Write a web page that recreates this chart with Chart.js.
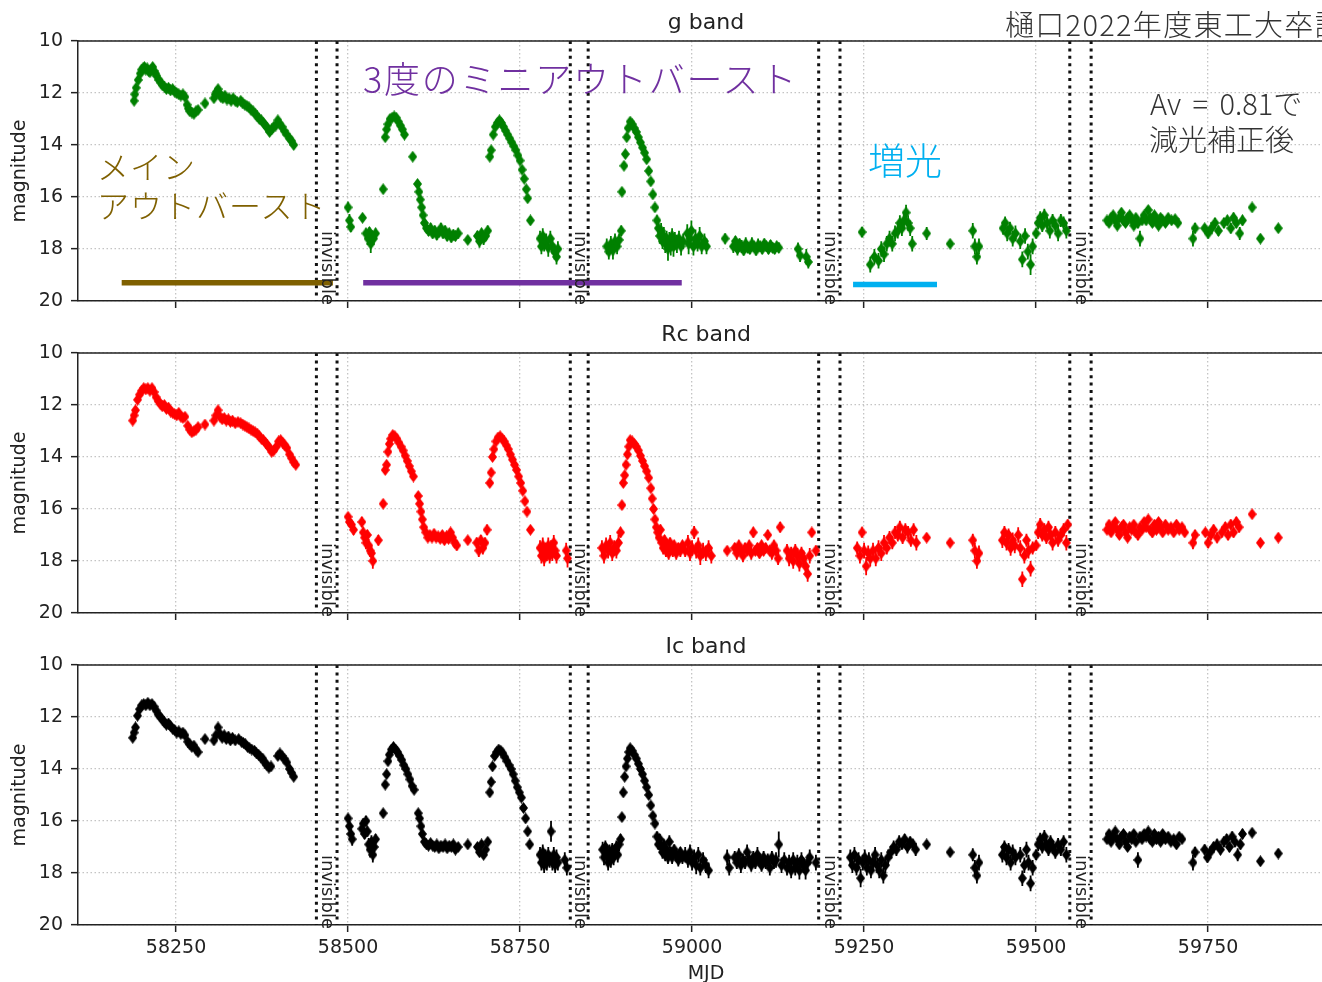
<!DOCTYPE html>
<html><head><meta charset="utf-8">
<script src="https://cdn.jsdelivr.net/npm/chart.js@4.4.0/dist/chart.umd.min.js"></script>
<style>
html,body{margin:0;padding:0;width:1322px;height:982px;overflow:hidden;background:#fff}
.panel{position:absolute;left:0}
.note{position:absolute;white-space:nowrap;font-family:"Noto Sans CJK JP";font-weight:300;line-height:1}
</style></head><body>
<div class="panel" style="top:0"><canvas id="c0" width="1340" height="330" style="width:1340px;height:330px"></canvas></div>
<div class="panel" style="top:312px"><canvas id="c1" width="1340" height="330" style="width:1340px;height:330px"></canvas></div>
<div class="panel" style="top:624px"><canvas id="c2" width="1340" height="358" style="width:1340px;height:358px"></canvas></div>

<div class="note" style="left:363px;top:59px;font-size:36px;letter-spacing:1.8px;color:#7030a0">3度のミニアウトバースト</div>
<div class="note" style="left:97px;top:149px;font-size:32px;letter-spacing:1px;color:#7f6000">メイン</div>
<div class="note" style="left:97px;top:188px;font-size:32px;letter-spacing:1px;color:#7f6000">アウトバースト</div>
<div class="note" style="left:868px;top:141px;font-size:37px;color:#00b0f0">増光</div>
<div class="note" style="left:1150px;top:88px;font-size:29px;word-spacing:5px;color:#333">Av = 0.81で</div>
<div class="note" style="left:1149px;top:124px;font-size:29px;color:#333">減光補正後</div>
<div class="note" style="left:1005px;top:9px;font-size:29px;letter-spacing:1.3px;color:#333">樋口2022年度東工大卒論</div>

<script>
// ---- data: [MJD, magnitude, error] ----
const gBand = [
[58189,12.3,.12],[58190,12.05,.1],[58192,11.8,.1],[58195,11.5,.1],[58198,11.25,.1],[58200,11.1,.1],[58202,11.05,.1],[58204,11.0,.1],[58206,11.1,.1],[58208,11.05,.1],[58210,11.15,.1],[58212,11.2,.1],[58214,11.1,.1],[58216,11.0,.1],[58218,11.15,.1],[58220,11.25,.1],[58222,11.35,.1],[58225,11.5,.1],[58228,11.6,.1],[58230,11.7,.1],[58233,11.75,.1],[58236,11.85,.1],[58239,11.8,.1],[58242,11.9,.1],[58245,11.85,.1],[58248,11.95,.1],[58251,12.0,.1],[58254,12.05,.1],[58257,12.1,.1],[58260,12.05,.1],[58263,12.15,.1],[58266,12.45,.1],[58268,12.6,.1],[58270,12.7,.1],[58273,12.75,.1],[58276,12.8,.1],[58279,12.7,.1],[58282,12.65,.1],[58292,12.4,.1],[58305,12.2,.1],[58307,12.05,.1],[58309,11.95,.1],[58311,11.85,.1],[58313,12.0,.1],[58315,12.15,.1],[58318,12.2,.1],[58321,12.1,.1],[58324,12.25,.1],[58327,12.2,.1],[58330,12.3,.1],[58333,12.2,.1],[58336,12.3,.1],[58339,12.35,.1],[58344,12.3,.1],[58347,12.4,.1],[58350,12.45,.1],[58353,12.5,.1],[58356,12.55,.1],[58359,12.65,.1],[58362,12.7,.1],[58365,12.8,.1],[58368,12.9,.1],[58371,13.0,.1],[58374,13.05,.1],[58377,13.15,.1],[58380,13.25,.1],[58383,13.35,.1],[58386,13.5,.1],[58389,13.4,.1],[58392,13.3,.1],[58395,13.25,.1],[58398,13.05,.1],[58401,13.2,.1],[58404,13.3,.1],[58407,13.45,.1],[58411,13.6,.1],[58415,13.75,.1],[58418,13.85,.1],[58421,14.0,.1],
[58500,16.4,.2],[58502,16.9,.25],[58504,17.15,.2],[58521,16.8,.15],[58526,17.4,.2],[58529,17.6,.25],[58531,17.35,.2],[58533,17.8,.35],[58535,17.5,.2],[58537,17.6,.25],[58540,17.4,.2],[58551,15.7,.15],[58554,13.7,.1],[58556,13.4,.1],[58558,13.2,.1],[58561,13.0,.1],[58564,12.95,.1],[58567,12.9,.1],[58570,12.95,.1],[58573,13.1,.1],[58576,13.25,.1],[58579,13.4,.1],[58582,13.6,.1],[58594,14.45,.1],[58601,15.5,.1],[58603,15.8,.1],[58605,16.1,.1],[58607,16.4,.1],[58609,16.7,.15],[58611,17.0,.15],[58614,17.2,.15],[58617,17.3,.2],[58620,17.2,.2],[58623,17.4,.2],[58626,17.3,.2],[58629,17.45,.2],[58632,17.35,.2],[58635,17.2,.2],[58638,17.4,.2],[58641,17.3,.2],[58644,17.5,.2],[58647,17.4,.2],[58650,17.55,.2],[58653,17.45,.2],[58656,17.5,.2],[58660,17.4,.2],[58674,17.65,.15],[58688,17.5,.2],[58691,17.7,.25],[58694,17.4,.2],[58697,17.6,.25],[58700,17.5,.2],[58703,17.3,.2],
[58706,14.45,.1],[58708,14.2,.1],[58711,13.6,.1],[58714,13.3,.1],[58717,13.15,.1],[58720,13.05,.1],[58723,13.15,.1],[58726,13.3,.1],[58729,13.45,.1],[58732,13.6,.1],[58735,13.75,.1],[58738,13.9,.1],[58741,14.05,.1],[58744,14.2,.1],[58747,14.4,.1],[58750,14.6,.1],[58753,14.95,.1],[58756,15.3,.1],[58759,15.7,.1],[58761,16.05,.1],[58765,16.9,.15],[58779,17.6,.3],[58781,17.9,.3],[58783,17.5,.3],[58785,17.8,.3],[58788,17.7,.3],[58791,17.95,.35],[58794,17.6,.3],[58797,17.9,.3],[58800,18.1,.3],[58803,18.3,.3],[58805,18.0,.3],
[58876,17.9,.3],[58879,18.1,.3],[58882,17.8,.3],[58885,18.05,.35],[58888,17.7,.3],[58891,17.9,.3],[58894,17.65,.25],[58897,17.3,.2],[58898,15.8,.1],[58901,14.8,.1],[58903,14.35,.1],[58905,13.7,.1],[58907,13.35,.1],[58910,13.1,.1],[58913,13.2,.1],[58916,13.35,.1],[58919,13.5,.1],[58922,13.7,.1],[58925,13.9,.1],[58928,14.1,.1],[58931,14.3,.1],[58934,14.55,.1],[58937,15.0,.1],[58940,15.4,.1],[58943,15.9,.1],[58946,16.4,.15],[58949,16.9,.2],[58951,17.2,.25],[58953,17.5,.3],[58955,17.3,.3],[58957,17.7,.3],[58959,17.5,.35],[58961,17.8,.35],[58963,17.6,.3],[58965,18.0,.45],[58967,17.7,.35],[58969,17.9,.35],[58971,17.5,.3],[58973,17.9,.4],[58975,17.7,.35],[58978,17.8,.35],[58981,17.6,.3],[58984,17.9,.35],[58987,17.7,.3],[58993,17.4,.35],[58995,17.8,.4],[58997,17.6,.35],[58999,17.3,.4],[59002,17.9,.35],[59005,17.6,.35],[59008,17.8,.3],[59011,17.5,.35],[59014,17.9,.3],[59018,17.7,.3],[59021,17.9,.3],
[59048,17.6,.2],[59060,17.9,.25],[59063,17.7,.2],[59066,18.0,.25],[59069,17.8,.2],[59072,17.9,.25],[59075,18.05,.2],[59078,17.8,.25],[59081,17.95,.2],[59084,18.0,.2],[59087,17.8,.25],[59090,17.9,.2],[59093,18.05,.2],[59096,17.85,.25],[59099,17.9,.2],[59102,18.0,.2],[59105,17.8,.2],[59108,17.9,.2],[59111,18.0,.2],[59114,17.85,.2],[59117,17.95,.2],[59120,18.0,.2],[59123,17.9,.2],[59126,17.95,.2],[59154,18.0,.25],[59157,18.25,.25],[59166,18.3,.3],[59169,18.5,.25],
[59247,17.35,.2],[59259,18.6,.3],[59265,18.3,.3],[59271,18.45,.3],[59275,18.0,.3],[59279,18.2,.3],[59283,17.8,.3],[59287,17.6,.3],[59291,17.8,.3],[59295,17.4,.3],[59299,17.3,.3],[59302,17.0,.3],[59305,17.2,.3],[59308,16.9,.3],[59311,16.6,.3],[59314,17.0,.3],[59317,17.2,.3],[59320,17.8,.3],[59341,17.4,.25],[59375,17.8,.1],[59408,17.3,.3],[59411,17.9,.3],[59414,18.3,.3],[59417,17.9,.3],[59452,17.2,.25],[59455,17.0,.25],[59458,17.4,.3],[59462,17.2,.25],[59466,17.6,.3],[59470,17.4,.3],[59477,17.7,.3],[59480,18.4,.3],[59484,17.5,.3],[59488,18.1,.3],[59492,18.6,.4],[59495,17.9,.3],[59500,17.4,.2],[59503,17.0,.25],[59506,16.8,.25],[59509,17.1,.25],[59512,16.7,.25],[59516,17.0,.25],[59520,17.3,.3],[59524,16.9,.25],[59528,17.1,.25],[59532,17.4,.3],[59536,16.9,.25],[59540,17.0,.25],[59544,17.3,.3],
[59603,16.9,.15],[59606,17.0,.15],[59609,16.8,.15],[59612,16.7,.15],[59615,16.9,.15],[59618,17.1,.15],[59621,16.8,.15],[59624,16.6,.15],[59627,16.9,.15],[59630,17.0,.15],[59633,16.8,.15],[59636,16.7,.15],[59639,16.9,.15],[59642,17.1,.15],[59645,16.8,.15],[59648,17.0,.2],[59651,17.6,.3],[59654,16.9,.15],[59657,16.7,.15],[59660,16.9,.15],[59663,16.5,.15],[59666,16.8,.15],[59669,17.0,.15],[59672,16.7,.15],[59675,16.9,.15],[59678,17.1,.15],[59681,16.8,.15],[59684,16.9,.15],[59688,17.0,.15],[59692,16.8,.15],[59697,16.9,.15],[59702,16.85,.15],[59706,17.0,.15],[59728,17.6,.3],[59731,17.2,.2],[59745,17.2,.15],[59750,17.4,.2],[59755,17.2,.2],[59760,17.0,.2],[59765,17.3,.2],[59773,17.0,.2],[59778,16.9,.2],[59783,17.2,.2],[59787,16.8,.2],[59791,17.0,.2],[59796,17.4,.25],[59800,16.9,.2],[59814,16.4,.1],[59826,17.6,.15],[59852,17.2,.15]
];
const rcBand = [
[58187,12.6,.1],[58189,12.4,.1],[58191,12.2,.1],[58194,11.8,.1],[58197,11.6,.1],[58200,11.45,.1],[58203,11.35,.1],[58206,11.4,.1],[58209,11.35,.1],[58212,11.45,.1],[58215,11.35,.1],[58218,11.5,.1],[58221,11.7,.1],[58224,11.85,.1],[58227,11.95,.1],[58230,12.05,.1],[58233,12.0,.1],[58236,12.15,.1],[58239,12.1,.1],[58242,12.25,.1],[58245,12.3,.1],[58248,12.35,.1],[58251,12.4,.1],[58254,12.3,.1],[58257,12.45,.1],[58260,12.5,.1],[58263,12.45,.1],[58267,12.8,.1],[58270,12.95,.1],[58273,13.05,.1],[58276,13.0,.1],[58279,12.95,.1],[58282,12.85,.1],[58292,12.75,.1],[58305,12.6,.1],[58308,12.4,.1],[58311,12.2,.1],[58314,12.45,.1],[58317,12.55,.1],[58320,12.5,.1],[58323,12.6,.1],[58326,12.55,.1],[58329,12.65,.1],[58332,12.6,.1],[58336,12.7,.1],[58340,12.65,.1],[58344,12.7,.1],[58347,12.75,.1],[58350,12.8,.1],[58353,12.85,.1],[58356,12.9,.1],[58359,12.95,.1],[58362,13.0,.1],[58365,13.05,.1],[58368,13.1,.1],[58371,13.2,.1],[58374,13.3,.1],[58377,13.35,.1],[58380,13.45,.1],[58383,13.55,.1],[58386,13.65,.1],[58389,13.8,.1],[58392,13.75,.1],[58396,13.6,.1],[58399,13.4,.1],[58402,13.35,.1],[58405,13.45,.1],[58408,13.55,.1],[58411,13.65,.1],[58415,13.9,.1],[58418,14.05,.1],[58421,14.2,.1],[58424,14.3,.1],
[58500,16.3,.15],[58502,16.5,.2],[58505,16.6,.2],[58508,16.8,.2],[58520,16.5,.2],[58522,16.9,.2],[58524,17.1,.25],[58526,17.3,.25],[58528,17.0,.2],[58530,17.4,.25],[58532,17.6,.25],[58534,17.7,.3],[58536,18.0,.3],[58544,17.2,.2],[58551,15.8,.1],[58554,14.5,.1],[58556,14.3,.1],[58558,13.8,.1],[58560,13.5,.1],[58562,13.3,.1],[58565,13.15,.1],[58568,13.2,.1],[58571,13.3,.1],[58574,13.45,.1],[58577,13.6,.1],[58580,13.75,.1],[58583,13.95,.1],[58586,14.15,.1],[58589,14.35,.1],[58592,14.55,.1],[58595,14.75,.1],[58602,15.5,.1],[58604,15.8,.1],[58606,16.1,.1],[58608,16.4,.1],[58610,16.7,.1],[58613,16.9,.15],[58616,17.1,.15],[58619,17.0,.15],[58622,17.1,.15],[58625,16.95,.15],[58628,17.1,.15],[58631,17.05,.15],[58634,17.15,.15],[58637,17.0,.15],[58640,17.2,.15],[58643,17.05,.15],[58646,17.15,.15],[58649,16.9,.15],[58652,17.1,.15],[58655,17.3,.2],[58658,17.4,.2],[58674,17.2,.15],[58687,17.3,.2],[58690,17.6,.25],[58693,17.2,.2],[58696,17.5,.25],[58699,17.3,.2],[58702,16.8,.2],
[58706,15.0,.1],[58708,14.6,.1],[58710,14.0,.1],[58712,13.7,.1],[58715,13.4,.1],[58718,13.25,.1],[58721,13.2,.1],[58724,13.3,.1],[58727,13.4,.1],[58730,13.55,.1],[58733,13.7,.1],[58736,13.9,.1],[58739,14.1,.1],[58742,14.3,.1],[58745,14.5,.1],[58748,14.75,.1],[58751,15.0,.1],[58754,15.3,.1],[58757,15.7,.1],[58760,16.1,.1],[58765,16.8,.15],[58779,17.5,.3],[58781,17.8,.3],[58783,17.4,.3],[58785,17.9,.3],[58787,17.6,.3],[58789,17.7,.3],[58791,17.4,.3],[58793,17.8,.3],[58795,17.5,.3],[58797,17.7,.3],[58799,17.3,.3],[58801,17.6,.3],[58803,17.8,.3],[58817,17.6,.3],[58819,17.9,.35],
[58869,17.5,.3],[58872,17.8,.3],[58875,17.4,.3],[58878,17.6,.3],[58881,17.3,.3],[58884,17.7,.3],[58887,17.5,.3],[58890,17.6,.3],[58893,17.3,.3],[58896,16.9,.2],[58898,15.85,.1],[58900,15.0,.1],[58902,14.7,.1],[58904,14.3,.1],[58906,13.9,.1],[58908,13.6,.1],[58910,13.35,.1],[58913,13.4,.1],[58916,13.5,.1],[58919,13.6,.1],[58922,13.75,.1],[58925,13.95,.1],[58928,14.15,.1],[58931,14.35,.1],[58934,14.55,.1],[58937,14.8,.1],[58940,15.2,.1],[58942,15.6,.1],[58944,16.0,.1],[58946,16.4,.15],[58948,16.7,.15],[58950,16.9,.2],[58952,17.1,.2],[58954,16.8,.2],[58956,17.3,.2],[58958,17.5,.25],[58960,17.2,.2],[58962,17.6,.25],[58964,17.4,.2],[58966,17.7,.25],[58968,17.3,.2],[58970,17.5,.25],[58972,17.6,.25],[58974,17.4,.2],[58977,17.7,.25],[58980,17.5,.2],[58983,17.6,.25],[58986,17.4,.2],[58990,17.6,.25],[58994,17.3,.3],[58997,17.7,.3],[59000,17.5,.3],[59003,16.9,.25],[59006,17.6,.3],[59009,17.4,.3],[59012,17.8,.35],[59016,17.6,.3],[59020,17.7,.3],[59024,17.5,.3],[59028,17.8,.3],
[59051,17.6,.15],[59062,17.5,.2],[59065,17.7,.25],[59068,17.4,.2],[59071,17.6,.2],[59074,17.8,.25],[59077,17.5,.2],[59080,17.6,.2],[59083,17.4,.2],[59086,17.7,.25],[59089,16.9,.2],[59092,17.6,.2],[59095,17.5,.2],[59098,17.7,.2],[59101,17.4,.2],[59104,17.6,.2],[59107,17.5,.2],[59110,17.0,.2],[59113,17.6,.2],[59116,17.7,.25],[59119,17.4,.2],[59122,17.6,.2],[59125,17.9,.25],[59128,16.7,.2],[59138,17.6,.25],[59141,17.9,.3],[59144,17.7,.25],[59147,18.0,.3],[59150,17.6,.25],[59153,17.8,.3],[59156,18.1,.3],[59159,17.7,.25],[59162,17.9,.3],[59165,18.2,.3],[59168,18.5,.3],[59171,17.8,.3],[59174,16.9,.15],[59180,17.6,.2],
[59240,17.5,.25],[59244,17.8,.3],[59247,16.9,.2],[59250,17.6,.3],[59253,18.2,.35],[59256,17.7,.3],[59259,17.9,.3],[59263,17.6,.3],[59267,17.9,.3],[59271,17.5,.3],[59275,17.7,.3],[59279,17.3,.3],[59283,17.5,.25],[59287,17.1,.25],[59291,17.3,.25],[59295,16.9,.25],[59299,17.0,.25],[59302,16.7,.25],[59306,17.1,.25],[59310,16.8,.25],[59314,16.9,.25],[59318,17.2,.25],[59322,16.8,.25],[59326,17.3,.3],[59341,17.1,.15],[59375,17.3,.1],[59408,17.2,.25],[59411,17.6,.3],[59414,18.0,.3],[59417,17.7,.3],[59451,17.2,.3],[59454,16.9,.25],[59457,17.3,.3],[59460,17.0,.25],[59463,17.5,.3],[59466,17.2,.3],[59469,17.4,.3],[59474,17.0,.3],[59477,17.5,.3],[59480,18.7,.3],[59483,17.8,.3],[59486,17.2,.25],[59489,17.6,.3],[59492,18.3,.3],[59495,17.5,.25],[59500,17.4,.2],[59503,16.9,.25],[59506,16.6,.25],[59509,17.0,.25],[59512,16.8,.25],[59515,17.1,.25],[59518,16.7,.25],[59521,17.0,.3],[59524,17.3,.3],[59528,16.9,.25],[59532,17.2,.25],[59536,17.0,.25],[59540,16.8,.25],[59544,17.3,.3],[59546,16.6,.2],
[59603,16.8,.15],[59606,16.6,.15],[59609,16.9,.15],[59612,16.7,.15],[59615,16.5,.15],[59618,16.8,.15],[59621,17.0,.15],[59624,16.7,.15],[59627,16.6,.15],[59630,16.9,.15],[59633,17.1,.15],[59636,16.7,.15],[59639,16.8,.15],[59642,16.6,.15],[59645,16.9,.15],[59648,17.0,.2],[59651,16.7,.15],[59654,16.8,.15],[59657,16.5,.15],[59660,16.7,.15],[59663,16.4,.15],[59666,16.8,.15],[59669,16.9,.2],[59672,16.6,.15],[59675,16.8,.15],[59678,16.5,.15],[59681,16.7,.15],[59684,16.9,.15],[59688,16.6,.15],[59692,16.8,.15],[59696,16.7,.15],[59700,16.9,.15],[59704,16.6,.15],[59708,16.8,.15],[59712,16.7,.15],[59716,16.9,.15],[59728,17.3,.25],[59731,17.0,.2],[59746,16.9,.15],[59750,17.3,.2],[59754,17.0,.2],[59758,16.8,.2],[59763,17.1,.2],[59770,16.9,.2],[59775,16.7,.2],[59779,17.0,.2],[59783,16.6,.2],[59787,16.9,.2],[59791,16.5,.2],[59795,16.7,.2],[59814,16.2,.1],[59826,17.3,.15],[59852,17.1,.15]
];
const icBand = [
[58187,12.8,.1],[58189,12.6,.1],[58191,12.4,.1],[58194,11.95,.1],[58197,11.7,.1],[58200,11.55,.1],[58203,11.5,.1],[58206,11.55,.1],[58209,11.45,.1],[58212,11.55,.1],[58215,11.5,.1],[58218,11.6,.1],[58221,11.75,.1],[58224,11.9,.1],[58227,12.0,.1],[58230,12.1,.1],[58233,12.2,.1],[58236,12.3,.1],[58239,12.25,.1],[58242,12.35,.1],[58245,12.45,.1],[58248,12.5,.1],[58251,12.6,.1],[58254,12.55,.1],[58257,12.65,.1],[58260,12.6,.1],[58263,12.7,.1],[58267,12.95,.1],[58270,13.05,.1],[58273,13.15,.1],[58276,13.1,.1],[58279,13.25,.1],[58282,13.35,.1],[58292,12.85,.1],[58305,12.9,.1],[58308,12.7,.1],[58311,12.4,.1],[58314,12.65,.1],[58317,12.8,.1],[58320,12.7,.1],[58323,12.85,.1],[58326,12.75,.1],[58329,12.9,.1],[58332,12.8,.1],[58336,12.9,.1],[58341,12.85,.1],[58345,12.95,.1],[58348,13.0,.1],[58351,13.05,.1],[58354,13.15,.1],[58357,13.2,.1],[58360,13.25,.1],[58364,13.3,.1],[58367,13.4,.1],[58370,13.45,.1],[58373,13.55,.1],[58376,13.6,.1],[58379,13.75,.1],[58382,13.85,.1],[58385,13.95,.1],[58388,13.9,.1],[58398,13.5,.1],[58401,13.4,.1],[58404,13.5,.1],[58407,13.6,.1],[58411,13.75,.1],[58415,14.0,.1],[58418,14.15,.1],[58421,14.3,.1],
[58500,15.9,.15],[58502,16.2,.2],[58504,16.5,.2],[58506,16.7,.25],[58520,16.3,.2],[58522,16.1,.2],[58524,16.5,.2],[58526,16.0,.2],[58528,16.4,.2],[58530,16.9,.25],[58532,17.1,.3],[58534,16.8,.25],[58536,17.3,.3],[58538,17.0,.25],[58540,16.7,.2],[58551,15.7,.15],[58554,14.6,.1],[58556,14.2,.1],[58558,13.7,.1],[58560,13.45,.1],[58563,13.25,.1],[58566,13.15,.1],[58569,13.25,.1],[58572,13.35,.1],[58575,13.5,.1],[58578,13.65,.1],[58581,13.85,.1],[58584,14.0,.1],[58587,14.2,.1],[58590,14.4,.1],[58593,14.65,.1],[58596,14.8,.1],[58602,15.7,.1],[58604,15.9,.1],[58606,16.2,.1],[58608,16.5,.1],[58611,16.8,.1],[58614,16.9,.1],[58617,16.95,.1],[58620,16.85,.1],[58623,16.95,.1],[58626,17.0,.1],[58629,16.9,.1],[58632,17.05,.1],[58635,16.95,.1],[58638,17.0,.1],[58641,16.9,.1],[58644,17.05,.1],[58647,16.95,.1],[58650,17.0,.1],[58653,16.9,.1],[58656,17.1,.15],[58660,17.0,.1],[58674,16.9,.1],[58688,17.0,.15],[58691,17.2,.15],[58694,16.9,.15],[58697,17.3,.15],[58700,17.1,.15],[58703,16.8,.15],
[58706,14.9,.1],[58708,14.5,.1],[58710,13.9,.1],[58713,13.5,.1],[58716,13.35,.1],[58719,13.25,.1],[58722,13.3,.1],[58725,13.4,.1],[58728,13.55,.1],[58731,13.7,.1],[58734,13.85,.1],[58737,14.0,.1],[58740,14.2,.1],[58743,14.45,.1],[58746,14.7,.1],[58749,14.9,.1],[58752,15.1,.1],[58755,15.5,.1],[58758,15.9,.1],[58761,16.4,.1],[58764,16.9,.15],[58779,17.3,.3],[58781,17.6,.3],[58783,17.2,.3],[58785,17.7,.3],[58787,17.4,.3],[58789,17.6,.3],[58791,17.3,.3],[58793,17.5,.3],[58795,16.4,.4],[58797,17.6,.3],[58799,17.3,.3],[58801,17.7,.3],[58803,17.4,.3],[58805,17.6,.3],[58815,17.5,.3],[58818,17.8,.3],
[58870,17.1,.3],[58872,17.4,.3],[58874,17.0,.25],[58876,17.3,.3],[58878,17.6,.3],[58880,17.2,.3],[58882,17.5,.3],[58884,17.1,.25],[58886,17.4,.3],[58888,17.2,.3],[58890,17.0,.25],[58892,17.3,.3],[58894,16.9,.25],[58896,16.7,.2],[58898,15.85,.1],[58900,14.9,.1],[58902,14.3,.1],[58904,13.9,.1],[58906,13.6,.1],[58908,13.35,.1],[58910,13.2,.1],[58913,13.3,.1],[58916,13.45,.1],[58919,13.6,.1],[58922,13.8,.1],[58925,14.0,.1],[58928,14.2,.1],[58931,14.45,.1],[58934,14.7,.1],[58937,15.0,.1],[58940,15.4,.1],[58943,15.8,.1],[58946,16.1,.15],[58949,16.6,.2],[58951,16.9,.2],[58953,16.7,.2],[58955,17.0,.2],[58957,17.2,.25],[58959,16.9,.2],[58961,17.3,.25],[58963,17.1,.2],[58965,17.4,.25],[58967,16.8,.25],[58969,17.2,.2],[58971,17.4,.25],[58974,17.1,.2],[58977,17.3,.25],[58980,17.5,.25],[58983,17.2,.2],[58986,17.4,.25],[58990,17.3,.3],[58994,17.5,.3],[58997,17.2,.3],[59000,17.6,.3],[59003,17.4,.3],[59006,17.7,.35],[59009,17.3,.3],[59012,17.8,.3],[59016,17.5,.3],[59020,17.7,.3],[59024,17.9,.3],
[59051,17.4,.3],[59054,17.8,.3],[59062,17.4,.25],[59065,17.6,.25],[59068,17.3,.25],[59071,17.7,.3],[59074,17.5,.25],[59077,17.6,.25],[59080,17.2,.3],[59083,17.5,.25],[59086,17.7,.25],[59089,17.4,.25],[59092,17.6,.25],[59095,17.3,.3],[59098,17.5,.25],[59101,17.7,.25],[59104,17.4,.25],[59107,17.6,.25],[59110,17.5,.25],[59113,17.8,.3],[59116,17.4,.25],[59119,17.6,.25],[59122,17.5,.3],[59126,16.9,.5],[59130,17.7,.3],[59134,17.5,.3],[59138,17.8,.3],[59141,17.6,.3],[59144,17.9,.3],[59147,17.5,.3],[59150,17.8,.3],[59153,17.6,.3],[59156,17.9,.35],[59159,17.5,.3],[59162,17.7,.3],[59165,17.9,.35],[59168,17.6,.3],[59171,17.4,.3],[59180,17.6,.3],
[59230,17.4,.3],[59233,17.7,.3],[59236,17.3,.3],[59239,17.8,.3],[59242,17.5,.3],[59245,18.2,.35],[59248,17.6,.3],[59251,17.4,.3],[59254,17.8,.3],[59257,17.5,.3],[59260,17.9,.3],[59263,17.6,.3],[59266,17.3,.3],[59269,17.7,.3],[59272,17.9,.3],[59275,17.5,.3],[59278,18.1,.3],[59281,17.7,.3],[59285,17.4,.3],[59289,17.2,.25],[59293,17.0,.25],[59297,17.1,.25],[59301,16.8,.25],[59305,16.9,.2],[59309,16.7,.2],[59313,17.0,.25],[59317,16.8,.2],[59321,16.9,.2],[59325,17.1,.25],[59341,16.9,.15],[59375,17.2,.1],[59408,17.3,.25],[59411,17.8,.3],[59414,18.1,.3],[59417,17.6,.3],[59451,17.3,.3],[59454,17.0,.25],[59457,17.4,.3],[59460,17.1,.25],[59463,17.6,.3],[59466,17.2,.3],[59470,17.4,.3],[59477,17.3,.3],[59480,18.2,.3],[59483,17.7,.3],[59486,17.1,.3],[59489,17.6,.3],[59492,18.4,.3],[59495,17.8,.3],[59500,17.3,.2],[59503,16.9,.25],[59506,16.7,.25],[59509,17.0,.25],[59512,16.6,.25],[59515,16.9,.25],[59518,17.1,.25],[59521,16.8,.25],[59524,17.0,.25],[59528,17.2,.25],[59532,16.9,.25],[59536,17.1,.25],[59540,16.8,.25],[59544,17.3,.3],
[59603,16.7,.15],[59606,16.5,.15],[59609,16.8,.15],[59612,16.6,.15],[59615,16.4,.15],[59618,16.7,.15],[59621,16.9,.15],[59624,16.6,.15],[59627,16.5,.15],[59630,16.8,.15],[59633,17.0,.15],[59636,16.6,.15],[59639,16.7,.15],[59642,16.5,.15],[59645,16.8,.15],[59648,17.5,.3],[59651,16.6,.15],[59654,16.7,.15],[59657,16.5,.15],[59660,16.6,.15],[59663,16.4,.15],[59666,16.7,.15],[59669,16.8,.15],[59672,16.5,.15],[59675,16.7,.15],[59678,16.6,.15],[59681,16.8,.15],[59684,16.5,.15],[59688,16.7,.15],[59692,16.6,.15],[59696,16.8,.15],[59700,16.7,.15],[59704,16.9,.15],[59708,16.6,.15],[59712,16.7,.15],[59728,17.6,.3],[59731,17.2,.2],[59745,17.1,.2],[59749,17.4,.2],[59753,17.2,.2],[59758,17.0,.2],[59763,16.9,.2],[59768,17.1,.2],[59773,16.8,.2],[59777,16.7,.2],[59781,17.0,.2],[59785,16.6,.2],[59789,16.8,.2],[59793,17.3,.25],[59797,16.9,.2],[59800,16.5,.2],[59814,16.45,.1],[59826,17.55,.15],[59852,17.25,.15]
];
const panelTitles = ['g band', 'Rc band', 'Ic band'];
const xTickValues = [58250, 58500, 58750, 59000, 59250, 59500, 59750];
const yTickValues = [10, 12, 14, 16, 18, 20];
const invisibleStart = [58454, 58823, 59184, 59549];
const invisibleEnd   = [58484, 58849, 59215, 59580];
const mainOutburstBar = [58171, 58478];
const miniOutburstBar = [58522, 58985];
const brighteningBar  = [59234, 59356];
const mainBarMag = 19.3, miniBarMag = 19.3, brightBarMag = 19.37;

// ---- rendering ----
const FONT = '"DejaVu Sans", sans-serif';
const TXT = '#222';

function diamond(color) {
  const c = document.createElement('canvas');
  c.width = 9; c.height = 12;
  const g = c.getContext('2d');
  g.fillStyle = color;
  g.beginPath(); g.moveTo(4.5, 0); g.lineTo(9, 6); g.lineTo(4.5, 12); g.lineTo(0, 6); g.closePath(); g.fill();
  return c;
}

const decor = {
  id: 'decor',
  beforeDatasetsDraw(chart) {
    const {ctx, scales: {y}} = chart;
    chart.data.datasets.forEach((ds, i) => {
      if (!ds.errs) return;
      const meta = chart.getDatasetMeta(i);
      ctx.save();
      ctx.strokeStyle = ds.errColor; ctx.lineWidth = 1.8;
      ctx.beginPath();
      meta.data.forEach((pt, j) => {
        const d = ds.data[j], e = ds.errs[j];
        ctx.moveTo(pt.x, y.getPixelForValue(d.y - e));
        ctx.lineTo(pt.x, y.getPixelForValue(d.y + e));
      });
      ctx.stroke();
      ctx.restore();
    });
  },
  afterDraw(chart) {
    const {ctx, chartArea: a, scales: {x}} = chart;
    const o = chart.options.plugins.decor;
    ctx.save();
    ctx.strokeStyle = TXT; ctx.lineWidth = 1.5;
    ctx.beginPath(); ctx.moveTo(a.left, a.top); ctx.lineTo(a.right, a.top); ctx.stroke();
    ctx.fillStyle = TXT;
    ctx.textAlign = 'center'; ctx.textBaseline = 'middle';
    ctx.font = '22px ' + FONT;
    ctx.fillText(o.title, (a.left + a.right) / 2, 23);
    ctx.font = '19px ' + FONT;
    ctx.save(); ctx.translate(20, (a.top + a.bottom) / 2); ctx.rotate(-Math.PI / 2);
    ctx.fillText('magnitude', 0, 0); ctx.restore();
    if (o.xTitle) ctx.fillText(o.xTitle, (a.left + a.right) / 2, a.bottom + 49);
    ctx.font = '18px ' + FONT; ctx.textAlign = 'right';
    invisibleStart.forEach((s, k) => {
      const cx = (x.getPixelForValue(s) + x.getPixelForValue(invisibleEnd[k])) / 2;
      ctx.save(); ctx.translate(cx, a.bottom + 4); ctx.rotate(Math.PI / 2);
      ctx.fillText('invisible', 0, 0); ctx.restore();
    });
    ctx.restore();
  }
};

function vline(v) {
  return {data: [{x: v, y: 10}, {x: v, y: 20}], showLine: true, pointRadius: 0,
    borderColor: '#111', borderWidth: 3, borderDash: [3, 4.4], borderCapStyle: 'butt', order: 2};
}
function hbar(range, mag, color) {
  return {data: [{x: range[0], y: mag}, {x: range[1], y: mag}], showLine: true, pointRadius: 0,
    borderColor: color, borderWidth: 5.5, borderCapStyle: 'butt', order: 1};
}

function makeChart(id, band, color, H, idx, withBars, withLabels) {
  const datasets = [{
    data: band.map(r => ({x: r[0], y: r[1]})),
    errs: band.map(r => r[2]), errColor: color,
    pointStyle: diamond(color), pointRadius: 4, showLine: false, order: 0
  }];
  invisibleStart.forEach((s, k) => { datasets.push(vline(s)); datasets.push(vline(invisibleEnd[k])); });
  if (withBars) {
    datasets.push(hbar(mainOutburstBar, mainBarMag, '#7f6000'));
    datasets.push(hbar(miniOutburstBar, miniBarMag, '#7030a0'));
    datasets.push(hbar(brighteningBar, brightBarMag, '#00b0f0'));
  }
  return new Chart(document.getElementById(id), {
    type: 'scatter',
    data: {datasets},
    plugins: [decor],
    options: {
      responsive: false, animation: false, events: [],
      layout: {padding: {top: 41, right: 6, left: 0, bottom: 0}},
      plugins: {legend: {display: false}, tooltip: {enabled: false},
        decor: {title: panelTitles[idx], xTitle: withLabels ? 'MJD' : null}},
      scales: {
        x: {
          type: 'linear', min: 58107.5, max: 59933,
          afterBuildTicks: s => { s.ticks = xTickValues.map(v => ({value: v})); },
          afterFit: s => { s.height = H - 301; },
          grid: {color: '#c4c4c4', lineWidth: 1.3, tickLength: 7, tickColor: TXT, tickWidth: 1.5},
          border: {display: true, color: TXT, width: 1.5, dash: [1.5, 2.5]},
          ticks: {display: withLabels, padding: 5, color: TXT, font: {family: FONT, size: 19},
            maxRotation: 0, callback: v => String(v)}
        },
        y: {
          type: 'linear', reverse: true, min: 10, max: 20,
          afterBuildTicks: s => { s.ticks = yTickValues.map(v => ({value: v})); },
          afterFit: s => { s.width = 78; },
          grid: {color: '#c4c4c4', lineWidth: 1.3, tickLength: 7, tickColor: TXT, tickWidth: 1.5},
          border: {display: true, color: TXT, width: 1.5, dash: [1.5, 2.5]},
          ticks: {padding: 8, color: TXT, font: {family: FONT, size: 19}, callback: v => String(v)}
        }
      }
    }
  });
}

makeChart('c0', gBand, '#008000', 330, 0, true, false);
makeChart('c1', rcBand, '#ff0000', 330, 1, false, false);
makeChart('c2', icBand, '#000000', 358, 2, false, true);
</script>
</body></html>
